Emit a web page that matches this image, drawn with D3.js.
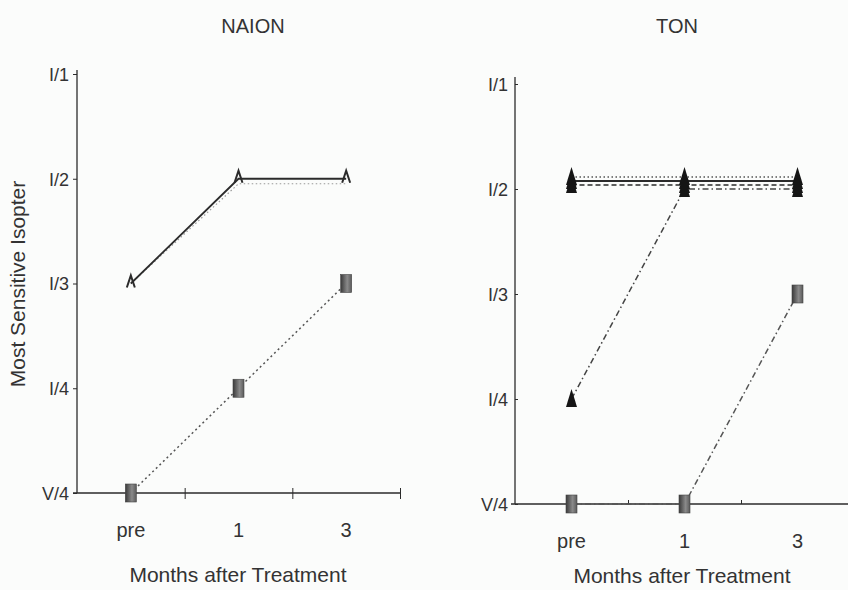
<!DOCTYPE html>
<html lang="en">
<head>
<meta charset="UTF-8">
<title>NAION / TON isopter</title>
<script src="https://cdn.jsdelivr.net/npm/d3@7"></script>
<style>
  body { margin: 0; background: #fbfcfb; }
  svg { display: block; font-family: "Liberation Sans", Arial, sans-serif; }
</style>
</head>
<body>
<svg id="chart" width="848" height="590"></svg>
<script>
// categories
var months = ["pre", "1", "3"];
var levels = ["I/1", "I/2", "I/3", "I/4", "V/4"];

// NAION series (isopter per visit)
var naionSolid  = ["I/3", "I/2", "I/2"];
var naionDotted = ["I/3", "I/2", "I/2"];
var naionSquare = ["V/4", "I/4", "I/3"];

// TON series
var tonDotted  = ["I/2", "I/2", "I/2"];
var tonSolid   = ["I/2", "I/2", "I/2"];
var tonDashed  = ["I/2", "I/2", "I/2"];
var tonDashDot = ["I/4", "I/2", "I/2"];
var tonSquare  = ["V/4", "V/4", "I/3"];

var svg = d3.select("#chart");
var ink = "#2b2b2b";

// gradient for the square markers
var grad = svg.append("defs").append("linearGradient").attr("id", "sq");
grad.append("stop").attr("offset", "0%").attr("stop-color", "#3a3a3a");
grad.append("stop").attr("offset", "60%").attr("stop-color", "#8a8a8a");
grad.append("stop").attr("offset", "100%").attr("stop-color", "#5a5a5a");

var markers = {
    caret: function (g) {
        g.append("path").attr("d", "M-4,4L0,-8L4,4")
            .attr("fill", "none").attr("stroke", ink).attr("stroke-width", 2);
    },
    tri: function (g) {
        g.append("path").attr("d", "M0,-10L5.5,8L-5.5,8Z").attr("fill", "#151515");
    },
    square: function (g) {
        g.append("rect").attr("x", -5.5).attr("y", -9).attr("width", 11).attr("height", 18)
            .attr("fill", "url(#sq)").attr("stroke", "#444").attr("stroke-width", 0.6);
    }
};

// y axis title (shared, left side)
svg.append("text").attr("transform", "translate(25,284) rotate(-90)")
    .attr("text-anchor", "middle").attr("font-size", 21).attr("fill", "#333")
    .text("Most Sensitive Isopter");

function panel(o) {
    var g = svg.append("g");
    var x = d3.scaleBand().domain(months).range(o.xRange);
    var y = d3.scalePoint().domain(levels).range(o.yRange);
    var x0 = o.xRange[0], yb = o.yRange[1];

    // y axis
    var ya = g.append("g").attr("transform", "translate(" + x0 + ",0)")
        .call(d3.axisLeft(y).tickSize(o.yTick).tickPadding(o.yPad));
    ya.select(".domain").attr("d", "M0," + o.axisTop + "V" + yb).attr("stroke", ink).attr("stroke-width", 1.3);
    ya.selectAll(".tick line").attr("stroke", ink);
    ya.selectAll("text").attr("font-size", 18).attr("fill", "#333").attr("dy", "0.35em");

    // x axis line + boundary ticks
    var xb = d3.scaleLinear().domain([0, 3]).range(o.xRange);
    var xa = g.append("g").attr("transform", "translate(0," + yb + ")")
        .call(d3.axisBottom(xb).tickValues([1, 2, 3]).tickFormat(""));
    xa.select(".domain").attr("d", "M" + (x0 - 4) + ",0H" + o.xRange[1]).attr("stroke", ink).attr("stroke-width", 1.3);
    xa.selectAll(".tick line").attr("y1", o.xTickUp).attr("y2", o.xTickDown).attr("stroke", ink);

    // x labels at band centres
    var xl = g.append("g").attr("transform", "translate(0," + yb + ")")
        .call(d3.axisBottom(x).tickSize(0).tickPadding(o.xPad));
    xl.select(".domain").remove();
    xl.selectAll("text").attr("font-size", 20).attr("fill", "#333");

    // titles
    g.append("text").attr("x", o.titleX).attr("y", 33).attr("text-anchor", "middle")
        .attr("font-size", 20).attr("fill", "#333").text(o.title);
    g.append("text").attr("x", o.xTitleX).attr("y", o.xTitleY).attr("text-anchor", "middle")
        .attr("font-size", 21).attr("fill", "#333").text("Months after Treatment");

    // series
    o.series.forEach(function (s) {
        var pts = s.values.map(function (v, i) {
            return [x(months[i]) + x.bandwidth() / 2, y(v) + (v === "I/2" ? s.off : 0)];
        });
        g.append("path").attr("d", d3.line()(pts)).attr("fill", "none")
            .attr("stroke", s.color || ink).attr("stroke-width", s.width || 1.6)
            .attr("stroke-dasharray", s.dash || null);
        if (s.marker) {
            pts.forEach(function (p) {
                var m = g.append("g").attr("transform", "translate(" + p[0] + "," + p[1] + ")");
                markers[s.marker](m);
            });
        }
    });
}

panel({
    title: "NAION", titleX: 253,
    xRange: [77, 400], yRange: [74, 493], axisTop: 70,
    yTick: 4, yPad: 4, xTickUp: -5, xTickDown: 6, xPad: 30,
    xTitleX: 238, xTitleY: 582,
    series: [
        { values: naionDotted, off: 5, dash: "1.5,2.5", color: "#999", width: 1.2 },
        { values: naionSquare, off: 0, dash: "2,3", color: "#555", width: 1.5, marker: "square" },
        { values: naionSolid, off: 0, width: 1.8, marker: "caret" }
    ]
});

panel({
    title: "TON", titleX: 677,
    xRange: [515, 854], yRange: [84, 504], axisTop: 77,
    yTick: -3, yPad: 7, xTickUp: -4, xTickDown: 0, xPad: 30,
    xTitleX: 682, xTitleY: 583,
    series: [
        { values: tonSquare, off: 0, dash: "6,3,1.5,3", color: "#555", width: 1.5, marker: "square" },
        { values: tonDashDot, off: 0, dash: "6,3,1.5,3", color: "#444", width: 1.5, marker: "tri" },
        { values: tonDashed, off: -4, dash: "5,3", marker: "tri" },
        { values: tonSolid, off: -8, width: 1.9, marker: "tri" },
        { values: tonDotted, off: -12, dash: "1.5,2.5", color: "#555", width: 1.4, marker: "tri" }
    ]
});
</script>
</body>
</html>
